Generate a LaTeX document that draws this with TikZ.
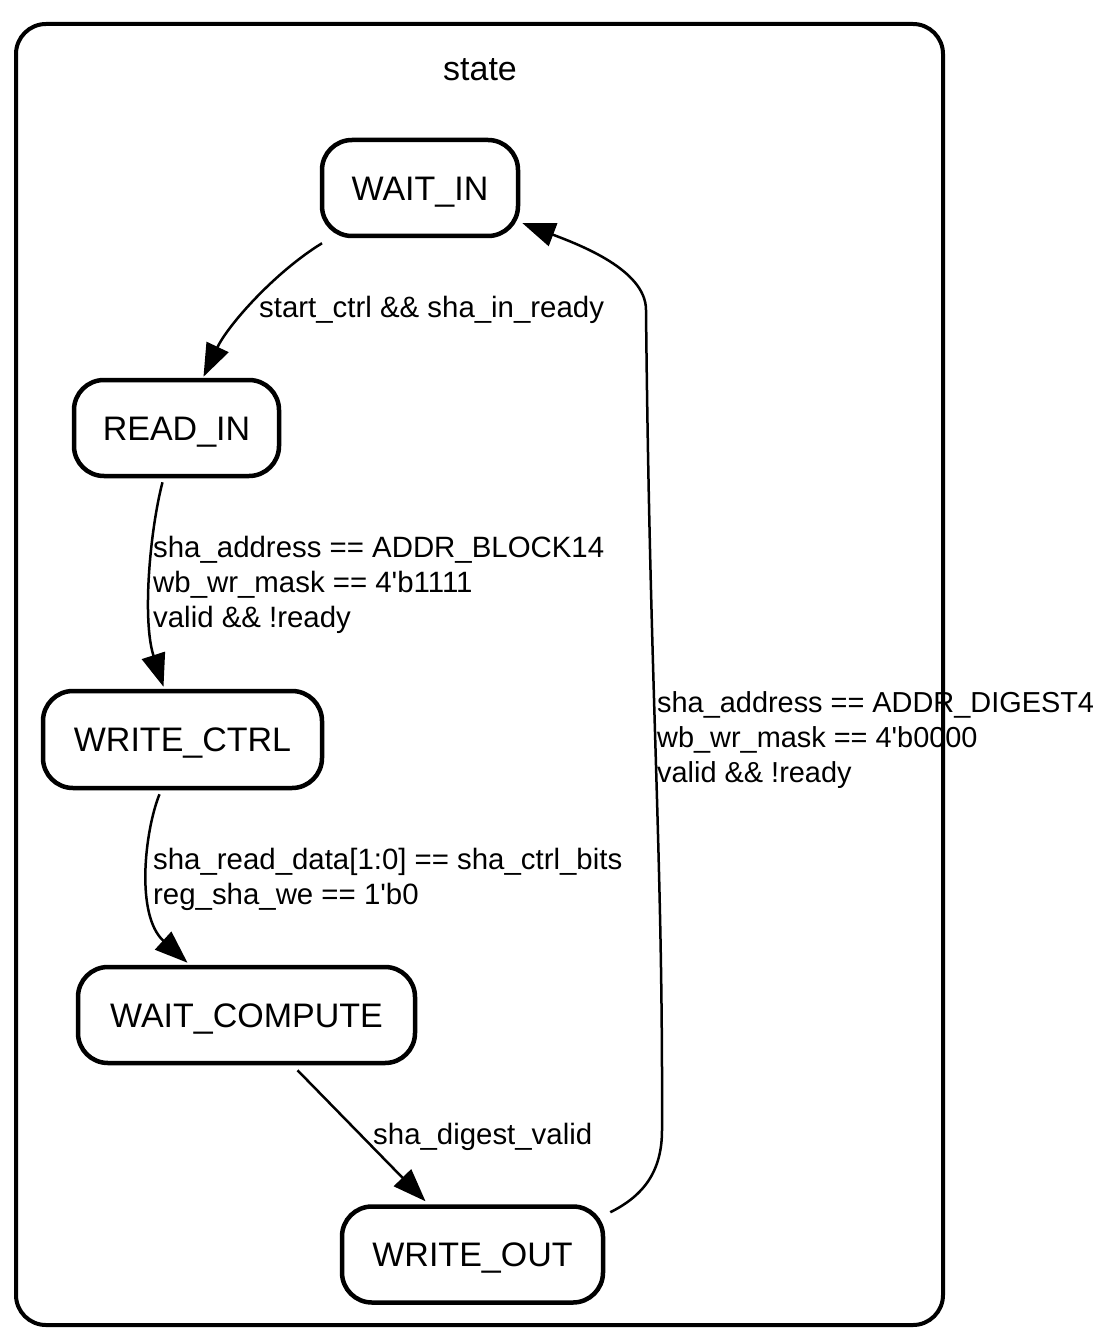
\documentclass[tikz,border=0pt]{standalone}
\usepackage{fontspec}
\setmainfont{Liberation Sans}
\usetikzlibrary{arrows.meta}
\begin{document}
\begin{tikzpicture}[x=1pt,y=-1pt,
  stnode/.style={draw, line width=4.5pt, rounded corners=30pt, minimum height=96pt, inner sep=0pt, text height=24.3pt, text depth=0pt, font=\fontsize{34}{40}\selectfont},
  edgelbl/.style={anchor=west, align=left, inner sep=0pt, font=\fontsize{29.4}{35}\selectfont},
  trans/.style={line width=2.5pt, -{Triangle[length=33pt,width=24pt]}}
]
\useasboundingbox (0,0) rectangle (1098,1329);
\node[draw, line width=4pt, rounded corners=30pt, minimum width=927pt, minimum height=1301pt, inner sep=0pt] (frame) at (479.5,674.5) {};
\node[font=\fontsize{34}{40}\selectfont, inner sep=0pt] (title) at (480,70) {state};

\node[stnode, minimum width=196pt] (wi) at (420,188) {WAIT\_IN};
\node[stnode, minimum width=205pt] (ri) at (176.5,428) {READ\_IN};
\node[stnode, minimum width=279pt, minimum height=97pt] (wc) at (182.5,739.5) {WRITE\_CTRL};
\node[stnode, minimum width=337pt] (wco) at (246.5,1015) {WAIT\_COMPUTE};
\node[stnode, minimum width=261pt] (wo) at (472.5,1254.5) {WRITE\_OUT};

% edges
\draw[trans] ([xshift=-98pt,yshift=-5pt]wi.south) .. controls (275,272) and (228,325) .. ([xshift=27pt,yshift=1pt]ri.north);
\draw[trans] ([xshift=-14pt,yshift=-4pt]ri.south) .. controls (150,530) and (142,620) .. ([xshift=-19pt,yshift=2pt]wc.north);
\draw[trans] ([xshift=-23pt,yshift=-4pt]wc.south) .. controls (145,830) and (135,915) .. ([xshift=-59pt,yshift=2pt]wco.north);
\draw[trans] ([xshift=51pt,yshift=-5pt]wco.south) -- ([xshift=-47pt,yshift=3pt]wo.north);
\draw[trans] ([xshift=5pt,yshift=-8pt]wo.north east) .. controls (645,1195) and (662,1170) .. (662,1130)
  .. controls (663,850) and (650,700) .. (646,310)
  .. controls (646,270) and (580,245) .. ([xshift=2pt,yshift=-35pt]wi.east);

% labels
\node[edgelbl] (l1) at (259,310) {start\_ctrl \&\& sha\_in\_ready};
\node[edgelbl] (l2) at (153,585) {sha\_address == ADDR\_BLOCK14\\wb\_wr\_mask == 4\textquotesingle b1111\\valid \&\& !ready};
\node[edgelbl] (l3) at (153,879.5) {sha\_read\_data[1:0] == sha\_ctrl\_bits\\reg\_sha\_we == 1\textquotesingle b0};
\node[edgelbl] (l4) at (373,1137) {sha\_digest\_valid};
\node[edgelbl, font=\fontsize{28.9}{35}\selectfont] (l5) at (657,740) {sha\_address == ADDR\_DIGEST4\\wb\_wr\_mask == 4\textquotesingle b0000\\valid \&\& !ready};
\end{tikzpicture}
\end{document}
